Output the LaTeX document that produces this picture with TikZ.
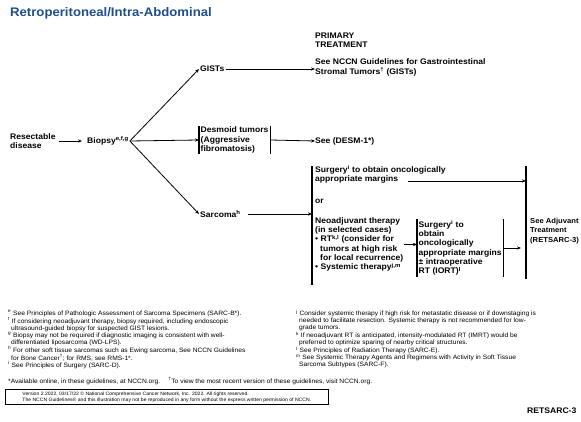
\documentclass[tikz,border=0pt]{standalone}
\usepackage{fontspec}
\setmainfont[FakeStretch=1.06]{Liberation Sans}
\usetikzlibrary{arrows.meta, positioning}
\definecolor{ctitle}{HTML}{1F4E8C}

\begin{document}
\begin{tikzpicture}[x=1pt, y=-1pt,
  txt/.style={anchor=west, inner sep=0pt, align=left, font=\fontsize{8.1}{9.3}\selectfont\bfseries},
  brk/.style={txt, inner xsep=1.5pt, inner ysep=1pt},
  arr/.style={-{Stealth[length=4pt, width=3.2pt]}, line width=0.8pt},
  bar/.style={line width=1.1pt},
  note/.style={anchor=north west, inner sep=0pt, align=left, font=\fontsize{6.3}{7}\selectfont}
]
\useasboundingbox (0,0) rectangle (581,422);

% title and column head
\node[anchor=west, inner sep=0pt, text=ctitle, font=\fontsize{12.4}{14}\selectfont\bfseries] (title) at (10,13) {Retroperitoneal/Intra-Abdominal};
\node[txt] (head) at (315,40.5) {PRIMARY\\TREATMENT};

% workup
\node[txt] (resect) at (10,141) {Resectable\\disease};
\node[txt, inner xsep=1pt] (biopsy) at (86,141) {Biopsy\textsuperscript{e,f,g}};

% branches
\node[txt, inner xsep=1pt] (gists) at (199,69) {GISTs};
\node[txt] (gistsout) at (315,67.5) {See NCCN Guidelines for Gastrointestinal\\Stromal Tumors\textsuperscript{\dag} (GISTs)};
\node[brk] (desmoid) at (199,140) {Desmoid tumors\\(Aggressive\\fibromatosis)};
\node[txt] (desmout) at (315,141) {See (DESM-1*)};
\node[txt, inner xsep=1pt] (sarcoma) at (199,214) {Sarcoma\textsuperscript{h}};

% primary treatment
\coordinate (lbtop) at (312,166);
\coordinate (lbbot) at (312,285);
\coordinate (rbtop) at (526,166);
\coordinate (rbbot) at (526,279);
\node[txt] (surg) at (315,174.5) {Surgery\textsuperscript{i} to obtain oncologically\\appropriate margins};
\coordinate (marg) at (408,181);
\node[txt] (or) at (315,201) {or};
\node[txt] (neo) at (315,244.5) {Neoadjuvant therapy\\(in selected cases)\\• RT\textsuperscript{k,l} (consider for\\\hspace*{5pt}tumors at high risk\\\hspace*{5pt}for local recurrence)\\• Systemic therapy\textsuperscript{j,m}};
\node[brk] (surgrt) at (417,248) {Surgery\textsuperscript{i} to\\obtain\\oncologically\\appropriate margins\\± intraoperative\\RT (IORT)\textsuperscript{l}};
\node[txt, font=\fontsize{7.2}{9.3}\selectfont\bfseries] (adjuv) at (530,231) {See Adjuvant\\Treatment\\(RETSARC-3)};

\draw[bar] (desmoid.north west) -- (desmoid.south west);
\draw[bar] (desmoid.north east) -- (desmoid.south east);
\draw[bar] (surgrt.north west) -- (surgrt.south west);
\draw[bar] (surgrt.north east) -- (surgrt.south east);
\draw[bar] (lbtop) -- (lbbot);
\draw[bar] (rbtop) -- (rbbot);

\draw[arr, shorten <=3pt, shorten >=4pt] (resect) -- (biopsy);
\draw[arr] (biopsy.east) -- (gists.west);
\draw[arr] (biopsy.east) -- (desmoid.west);
\draw[arr] (biopsy.east) -- (sarcoma.west);
\draw[arr] (gists.east) -- (gists.east -| gistsout.west);
\draw[arr] (desmoid.east) -- (desmout.west);
\draw[arr, shorten <=6pt] (sarcoma.east) -- (sarcoma.east -| lbtop);
\draw[arr] (marg) -- (marg -| rbtop);
\draw[arr, shorten <=1pt] (neo.east) -- (neo.east -| surgrt.west);
\draw[arr, shorten >=5pt] (surgrt.east) -- (surgrt.east -| rbtop);

% footnotes
\node[note] (notesl) at (8,310) {\textsuperscript{e} See Principles of Pathologic Assessment of Sarcoma Specimens (SARC-B*).\\
\textsuperscript{f} If considering neoadjuvant therapy, biopsy required, including endoscopic\\
\hspace*{3pt}ultrasound-guided biopsy for suspected GIST lesions.\\
\textsuperscript{g} Biopsy may not be required if diagnostic imaging is consistent with well-\\
\hspace*{3pt}differentiated liposarcoma (WD-LPS).\\
\textsuperscript{h} For other soft tissue sarcomas such as Ewing sarcoma, See NCCN Guidelines\\
\hspace*{3pt}for Bone Cancer\textsuperscript{\dag}; for RMS, see RMS-1*.\\
\textsuperscript{i} See Principles of Surgery (SARC-D).};
\node[note] (notesr) at (296,310) {\textsuperscript{j} Consider systemic therapy if high risk for metastatic disease or if downstaging is\\
\hspace*{3pt}needed to facilitate resection. Systemic therapy is not recommended for low-\\
\hspace*{3pt}grade tumors.\\
\textsuperscript{k} If neoadjuvant RT is anticipated, intensity-modulated RT (IMRT) would be\\
\hspace*{3pt}preferred to optimize sparing of nearby critical structures.\\
\textsuperscript{l} See Principles of Radiation Therapy (SARC-E).\\
\textsuperscript{m} See Systemic Therapy Agents and Regimens with Activity in Soft Tissue\\
\hspace*{3pt}Sarcoma Subtypes (SARC-F).};
\node[note, anchor=west] (avail) at (8,381) {*Available online, in these guidelines, at NCCN.org.\hspace{8pt}\textsuperscript{\dag}To view the most recent version of these guidelines, visit NCCN.org.};
\node[draw, line width=0.6pt, anchor=north west, inner xsep=4pt, inner ysep=2.5pt, align=left, font=\fontsize{4.8}{6}\selectfont, minimum width=323pt] (version) at (5,389) {Version 2.2022, 03/17/22 © National Comprehensive Cancer Network, Inc. 2022. All rights reserved.\\The NCCN Guidelines® and this illustration may not be reproduced in any form without the express written permission of NCCN.};
\node[txt] (page) at (527,411) {RETSARC-3};
\end{tikzpicture}
\end{document}
